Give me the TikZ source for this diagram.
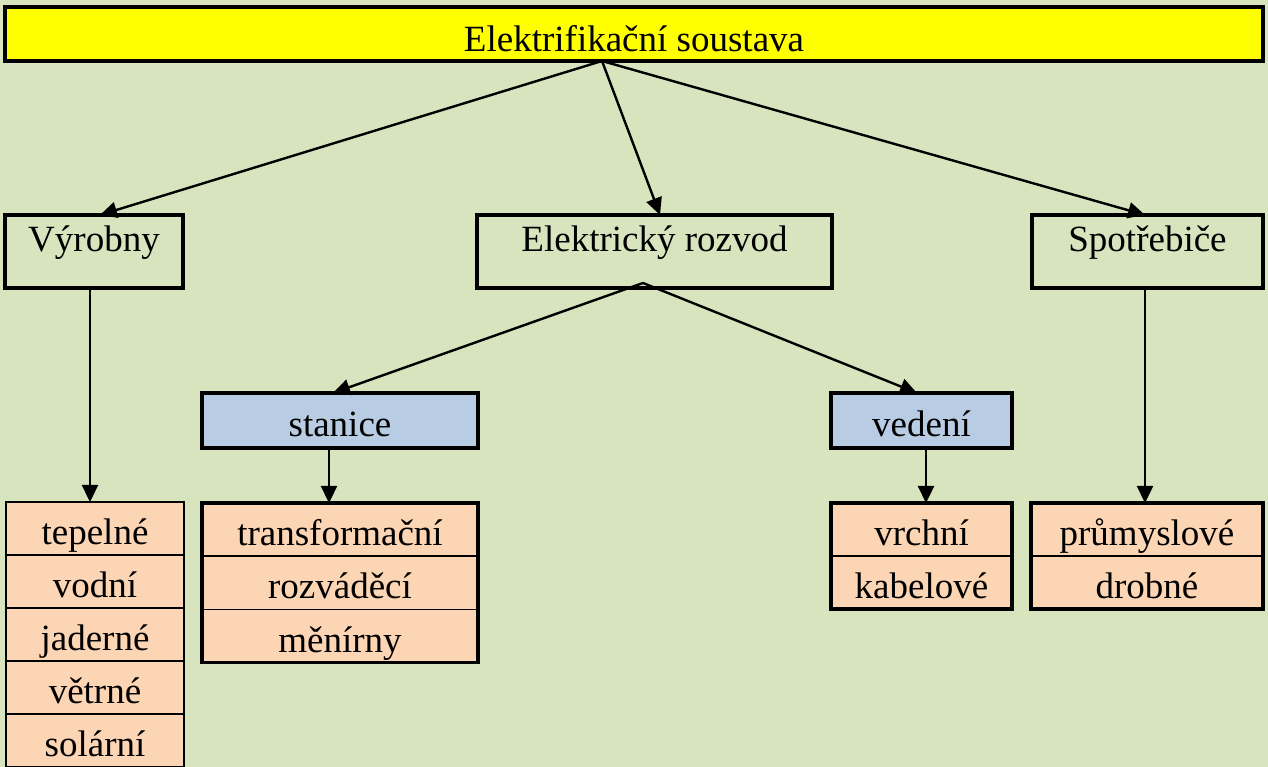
\documentclass[tikz,border=0pt]{standalone}
\usepackage{fontspec}
\setmainfont{Liberation Serif}
\usetikzlibrary{arrows.meta,calc,fit}
\definecolor{bg}{HTML}{D7E4BD}
\definecolor{ylw}{HTML}{FFFF00}
\definecolor{blu}{HTML}{B8CCE4}
\definecolor{pch}{HTML}{FCD5B4}
\begin{document}
\begin{tikzpicture}[x=1pt,y=1pt,
  font=\fontsize{37}{44}\selectfont,
  thickbox/.style={draw, line width=3.2pt, rectangle, inner sep=0pt, outer sep=0pt},
  headbox/.style={thickbox, minimum height=73, text height=20pt, text depth=20pt},
  subbox/.style={thickbox, fill=blu, minimum height=55, text height=36pt, text depth=4pt},
  cell/.style={draw, line width=1.6pt, fill=pch, rectangle, inner sep=0pt, outer sep=0pt, text height=36pt, text depth=4pt},
  grp/.style={draw, line width=3.2pt, inner sep=0pt, outer sep=0pt},
  arr/.style={line width=2.4pt, -{Triangle[length=17pt,width=16pt]}}
]
\fill[bg] (0,0) rectangle (1268,767);
\useasboundingbox (0,0) rectangle (1268,767);

% top
\node[thickbox, fill=ylw, minimum width=1258, minimum height=54, text height=38pt, text depth=2pt] (top) at (634,733) {Elektrifikační soustava};

% level 1
\node[headbox, minimum width=178] (vyr) at (94,515.5) {Výrobny};
\node[headbox, minimum width=355] (roz) at (654.5,515.5) {Elektrický rozvod};
\node[headbox, minimum width=231] (spo) at (1147.5,515.5) {Spotřebiče};

% level 2
\node[subbox, minimum width=276] (stn) at (340,346.5) {stanice};
\node[subbox, minimum width=181] (ved) at (921.5,346.5) {vedení};

% Vyrobny list
\node[cell, minimum width=178, minimum height=53, anchor=north] (l1) at (95,265) {tepelné};
\node[cell, minimum width=178, minimum height=53, anchor=north] (l2) at (l1.south) {vodní};
\node[cell, minimum width=178, minimum height=53, anchor=north] (l3) at (l2.south) {jaderné};
\node[cell, minimum width=178, minimum height=53, anchor=north] (l4) at (l3.south) {větrné};
\node[cell, minimum width=178, minimum height=53, anchor=north] (l5) at (l4.south) {solární};

% stanice list
\node[cell, minimum width=276, minimum height=53.3, anchor=north] (t1) at (340,264) {transformační};
\node[cell, minimum width=276, minimum height=53.3, anchor=north] (t2) at (t1.south) {rozváděcí};
\node[cell, minimum width=276, minimum height=53.3, anchor=north] (t3) at (t2.south) {měnírny};
\node[grp, fit=(t1)(t3)] (trf) {};

% vedeni list
\node[cell, minimum width=181, minimum height=53, anchor=north] (v1) at (921.5,264) {vrchní};
\node[cell, minimum width=181, minimum height=53, anchor=north] (v2) at (v1.south) {kabelové};
\node[grp, fit=(v1)(v2)] (vgr) {};

% spotrebice list
\node[cell, minimum width=232, minimum height=53, anchor=north] (p1) at (1147,264) {průmyslové};
\node[cell, minimum width=232, minimum height=53, anchor=north] (p2) at (p1.south) {drobné};
\node[grp, fit=(p1)(p2)] (pgr) {};

% connectors
\draw[arr] ($(top.south)+(-32,0)$) -- ($(vyr.north)+(6,0)$);
\draw[arr] ($(top.south)+(-32,0)$) -- ($(roz.north)+(5.5,0)$);
\draw[arr] ($(top.south)+(-32,0)$) -- ($(spo.north)+(-2.5,0)$);

\draw[arr] ($(vyr.south)+(-4,0)$) -- ($(l1.north)+(-5,0)$);
\draw[arr] ($(roz.south)+(-11.5,5)$) -- ($(stn.north)+(-7,0)$);
\draw[arr] ($(roz.south)+(-11.5,5)$) -- ($(ved.north)+(-4.5,0)$);
\draw[arr] ($(stn.south)+(-11,0)$) -- ($(trf.north)+(-11,0)$);
\draw[arr] ($(ved.south)+(4.5,0)$) -- ($(vgr.north)+(4.5,0)$);
\draw[arr] ($(spo.south)+(-2.5,0)$) -- ($(pgr.north)+(-2,0)$);
\end{tikzpicture}
\end{document}
